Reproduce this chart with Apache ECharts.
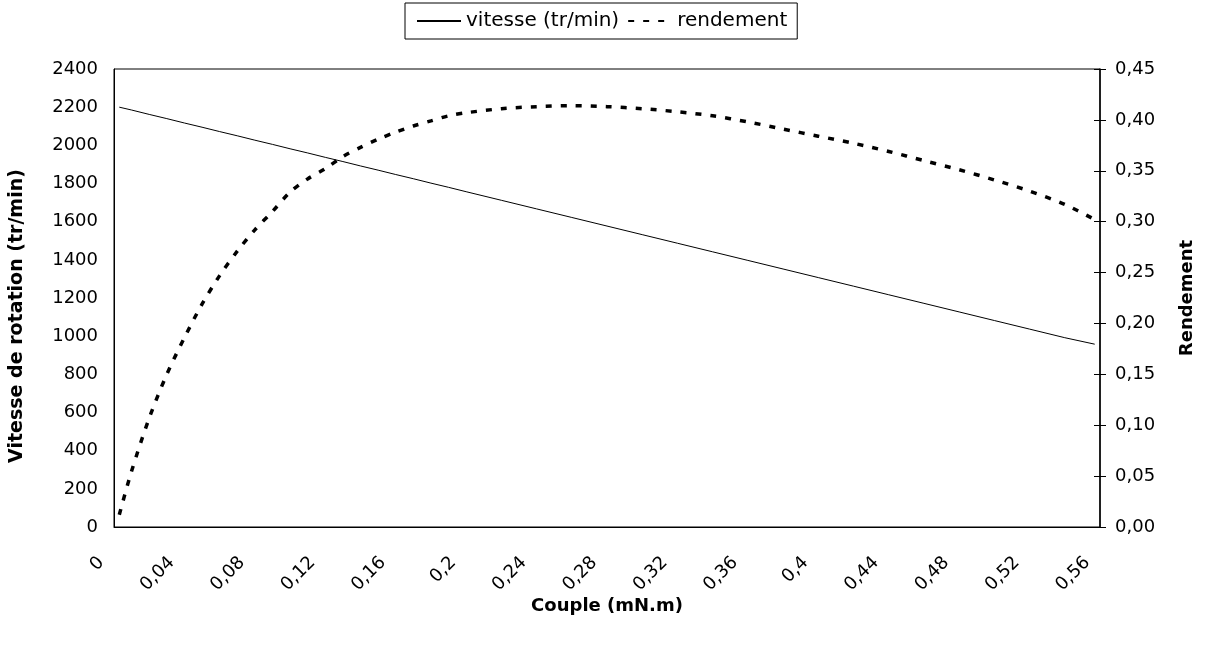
<!DOCTYPE html>
<html>
<head>
<meta charset="utf-8">
<script src="https://cdn.jsdelivr.net/npm/echarts@6/dist/echarts.min.js"></script>
<style>html,body{margin:0;padding:0;background:#fff}#c{width:1205px;height:647px}</style>
</head>
<body>
<div id="c"></div>
<script>
const couple = [0.003, 0.01, 0.02, 0.03, 0.04, 0.05, 0.06, 0.07, 0.08, 0.09, 0.10, 0.11, 0.12, 0.13, 0.14, 0.15, 0.16, 0.17, 0.18, 0.19, 0.20, 0.22, 0.24, 0.26, 0.28, 0.30, 0.32, 0.34, 0.36, 0.38, 0.40, 0.42, 0.44, 0.46, 0.48, 0.50, 0.52, 0.54, 0.557];
const vitesse = [2200, 2185, 2162, 2140, 2117, 2095, 2072, 2050, 2027, 2005, 1982, 1960, 1937, 1915, 1892, 1870, 1847, 1825, 1802, 1780, 1757, 1712, 1667, 1622, 1577, 1532, 1487, 1442, 1397, 1352, 1307, 1262, 1217, 1172, 1127, 1082, 1037, 992, 958];
const rendement = [0.012, 0.055, 0.107, 0.150, 0.186, 0.219, 0.247, 0.271, 0.292, 0.310, 0.329, 0.342, 0.352, 0.364, 0.373, 0.381, 0.388, 0.394, 0.399, 0.404, 0.407, 0.411, 0.413, 0.414, 0.413, 0.411, 0.408, 0.404, 0.398, 0.391, 0.384, 0.377, 0.369, 0.360, 0.351, 0.341, 0.330, 0.317, 0.302];
const xTicks = {min: 0, max: 0.56, interval: 0.04};
const leftTicks = {min: 0, max: 2400, interval: 200};
const rightTicks = {min: 0, max: 0.45, interval: 0.05};

const FONT = '"DejaVu Sans", "Liberation Sans", Arial, sans-serif';
const chart = echarts.init(document.getElementById('c'), null, {renderer: 'canvas'});
const nameStyle = {fontFamily: FONT, fontSize: 18, fontWeight: 'bold', color: '#000'};
chart.setOption({
  backgroundColor: '#fff',
  animation: false,
  textStyle: {fontFamily: FONT, color: '#000'},
  legend: {
    top: 3, left: 405,
    data: ['vitesse (tr/min)', 'rendement'],
    borderColor: '#000', borderWidth: 1,
    padding: [8, 10, 8, 11],
    itemWidth: 44, itemHeight: 14, itemGap: 8,
    itemStyle: {opacity: 0},
    textStyle: {fontFamily: FONT, fontSize: 20, color: '#000'}
  },
  grid: {left: 114, right: 105, top: 69, bottom: 120, show: true, borderColor: '#000', borderWidth: 1, backgroundColor: '#fff'},
  xAxis: {
    type: 'value', min: xTicks.min, max: xTicks.max, interval: xTicks.interval,
    name: 'Couple (mN.m)', nameLocation: 'middle', nameGap: 70, nameMoveOverlap: false,
    nameTextStyle: nameStyle,
    axisLine: {show: true, lineStyle: {color: '#000', width: 1}},
    axisTick: {show: false},
    splitLine: {show: false},
    axisLabel: {
      rotate: 45, margin: 20, padding: [0, 18, 0, 0],
      fontFamily: FONT, fontSize: 18, color: '#000',
      formatter: v => String(+v.toFixed(2)).replace('.', ',')
    }
  },
  yAxis: [{
    type: 'value', min: leftTicks.min, max: leftTicks.max, interval: leftTicks.interval,
    name: 'Vitesse de rotation (tr/min)', nameLocation: 'middle', nameGap: 87, nameRotate: 90,
    nameTextStyle: Object.assign({}, nameStyle, {fontSize: 19, padding: [0, 36, 0, 0]}),
    axisLine: {show: true, lineStyle: {color: '#000', width: 1}},
    axisTick: {show: false},
    splitLine: {show: false},
    axisLabel: {margin: 16, fontFamily: FONT, fontSize: 18, color: '#000', formatter: v => String(v)}
  }, {
    type: 'value', position: 'right', min: rightTicks.min, max: rightTicks.max, interval: rightTicks.interval,
    name: 'Rendement', nameLocation: 'middle', nameGap: 78, nameRotate: 90,
    nameTextStyle: nameStyle,
    axisLine: {show: true, lineStyle: {color: '#000', width: 1.5}},
    axisTick: {show: true, length: 6, lineStyle: {color: '#000'}},
    splitLine: {show: false},
    axisLabel: {margin: 15, fontFamily: FONT, fontSize: 18, color: '#000',
      formatter: v => v.toFixed(2).replace('.', ',')}
  }, {
    type: 'value', position: 'right', min: rightTicks.min, max: rightTicks.max, interval: rightTicks.interval,
    axisLine: {show: false},
    axisTick: {show: true, inside: true, length: 6, lineStyle: {color: '#000'}},
    axisLabel: {show: false},
    splitLine: {show: false}
  }],
  series: [{
    name: 'vitesse (tr/min)', type: 'line', yAxisIndex: 0, symbol: 'none',
    lineStyle: {color: '#000', width: 1},
    itemStyle: {color: '#000'},
    data: couple.map((c, i) => [c, vitesse[i]])
  }, {
    name: 'rendement', type: 'line', yAxisIndex: 1, symbol: 'none', smooth: 0.3,
    lineStyle: {color: '#000', width: 3.5, type: [6, 9]},
    itemStyle: {color: '#000'},
    data: couple.map((c, i) => [c, rendement[i]])
  }]
});
</script>
</body>
</html>
